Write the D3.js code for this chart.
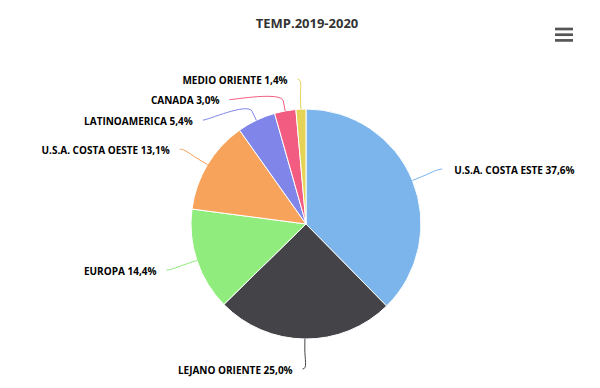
<!DOCTYPE html>
<html>
<head>
<meta charset="utf-8">
<script src="https://cdn.jsdelivr.net/npm/d3@7"></script>
<style>
  body { margin: 0; background: #fff; }
  text { font-family: "Open Sans", "DejaVu Sans", sans-serif; }
</style>
</head>
<body>
<svg id="chart" width="600" height="388"></svg>
<script>
// data
const names = ['U.S.A. COSTA ESTE', 'LEJANO ORIENTE', 'EUROPA', 'U.S.A. COSTA OESTE', 'LATINOAMERICA', 'CANADA', 'MEDIO ORIENTE'];
const shares = [37.6, 25.0, 14.4, 13.1, 5.4, 3.0, 1.4];
const colors = ['#7cb5ec', '#434348', '#90ed7d', '#f7a35c', '#8085e9', '#f15c80', '#e4d354'];
const title = 'TEMP.2019-2020';

const svg = d3.select('#chart');
const conf = { cx: 306, cy: 224, r: 115, distance: 30, spacing: 20.5 };

svg.append('text')
  .attr('x', 307).attr('y', 28)
  .attr('text-anchor', 'middle')
  .attr('font-size', 13).attr('font-weight', 'bold')
  .attr('fill', '#333')
  .text(title);

// menu button
const menu = svg.append('g').attr('transform', 'translate(555,29)');
[0, 5.7, 11.4].forEach(function (dy) {
  menu.append('line')
    .attr('x1', 0).attr('x2', 18).attr('y1', dy).attr('y2', dy)
    .attr('stroke', '#555').attr('stroke-width', 2.7);
});

const rows = names.map(function (n, i) { return { name: n, value: shares[i], color: colors[i] }; });
const pie = d3.pie().sort(null).value(function (d) { return d.value; });
const arcs = pie(rows);
const arc = d3.arc().innerRadius(0).outerRadius(conf.r);

const g = svg.append('g').attr('transform', 'translate(' + conf.cx + ',' + conf.cy + ')');
g.selectAll('path.slice')
  .data(arcs)
  .enter()
  .append('path')
  .classed('slice', true)
  .attr('d', arc)
  .attr('fill', function (d) { return d.data.color; })
  .attr('stroke', '#fff')
  .attr('stroke-width', 1);

// label positions, Highcharts-ish: outside ring, left side pushed apart
const R = conf.r + conf.distance;
arcs.forEach(function (d) {
  d.mid = (d.startAngle + d.endAngle) / 2;
  d.left = Math.sin(d.mid) < 0;
  d.ly = -R * Math.cos(d.mid);
});
const leftOnes = arcs.filter(function (d) { return d.left; }).sort(function (a, b) { return a.ly - b.ly; });
for (let i = 1; i < leftOnes.length; i++) {
  if (leftOnes[i].ly - leftOnes[i - 1].ly < conf.spacing) leftOnes[i].ly = leftOnes[i - 1].ly + conf.spacing;
}
arcs.forEach(function (d) {
  const dx = Math.sqrt(Math.max(0, R * R - d.ly * d.ly));
  d.lx = d.left ? -dx : dx;
});

const fmt = function (v) { return v.toFixed(1).replace('.', ','); };

g.selectAll('path.conn')
  .data(arcs)
  .enter()
  .append('path')
  .classed('conn', true)
  .attr('fill', 'none')
  .attr('stroke', function (d) { return d.data.color; })
  .attr('stroke-width', 1)
  .attr('d', function (d) {
    const sx = d.lx + (d.left ? -2 : 2), sy = d.ly;
    const bx = (conf.r + 10) * Math.sin(d.mid), by = -(conf.r + 10) * Math.cos(d.mid);
    const tx = conf.r * Math.sin(d.mid), ty = -conf.r * Math.cos(d.mid);
    const path = d3.path();
    path.moveTo(sx, sy);
    path.bezierCurveTo(sx + (d.left ? 5 : -5), sy, 2 * bx - tx, 2 * by - ty, bx, by);
    path.lineTo(tx, ty);
    return path.toString();
  });

g.selectAll('text.lbl')
  .data(arcs)
  .enter()
  .append('text')
  .classed('lbl', true)
  .attr('x', function (d) { return d.left ? d.lx - 12 : d.lx + 14; })
  .attr('y', function (d) { return d.ly + 2; })
  .attr('text-anchor', function (d) { return d.left ? 'end' : 'start'; })
  .attr('dominant-baseline', 'middle')
  .attr('font-size', 10)
  .attr('font-weight', 'bold')
  .attr('fill', '#000')
  .text(function (d) { return d.data.name + ' ' + fmt(d.data.value) + '%'; });
</script>
</body>
</html>
